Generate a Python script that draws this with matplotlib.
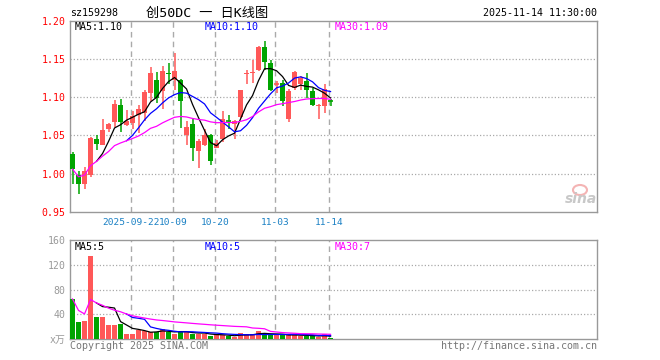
import numpy as np
import pandas as pd
import matplotlib
matplotlib.use("Agg")
import matplotlib.pyplot as plt
from matplotlib.patches import Ellipse

plt.rcParams['font.family'] = ['DejaVu Sans Mono', 'Noto Sans CJK SC']

# 日K数据
opens = [1.026, 0.999, 0.986, 0.999, 1.045, 1.038, 1.059, 1.068, 1.090, 1.064,
         1.066, 1.077, 1.079, 1.106, 1.122, 1.108, 1.132, 1.123, 1.122, 1.050,
         1.065, 1.030, 1.038, 1.051, 1.034, 1.045, 1.069, 1.065, 1.074, 1.130,
         1.131, 1.135, 1.166, 1.145, 1.117, 1.118, 1.071, 1.112, 1.117, 1.121,
         1.108, 1.088, 1.088, 1.095]
closes = [1.006, 0.986, 1.003, 1.047, 1.039, 1.057, 1.065, 1.091, 1.068, 1.069,
          1.076, 1.085, 1.107, 1.132, 1.099, 1.134, 1.130, 1.134, 1.095, 1.061,
          1.033, 1.043, 1.051, 1.016, 1.040, 1.072, 1.068, 1.069, 1.109, 1.132,
          1.133, 1.166, 1.146, 1.110, 1.118, 1.095, 1.108, 1.133, 1.125, 1.110,
          1.090, 1.090, 1.111, 1.094]
highs = [1.029, 1.003, 1.009, 1.048, 1.050, 1.072, 1.066, 1.096, 1.098, 1.083,
         1.082, 1.090, 1.110, 1.139, 1.133, 1.141, 1.145, 1.158, 1.124, 1.069,
         1.073, 1.046, 1.058, 1.052, 1.044, 1.082, 1.077, 1.070, 1.110, 1.135,
         1.149, 1.167, 1.173, 1.149, 1.121, 1.122, 1.111, 1.134, 1.128, 1.132,
         1.112, 1.091, 1.117, 1.098]
lows = [0.987, 0.974, 0.980, 0.996, 1.031, 1.037, 1.054, 1.061, 1.054, 1.063,
        1.059, 1.053, 1.069, 1.095, 1.092, 1.084, 1.117, 1.110, 1.060, 1.037,
        1.016, 1.008, 1.036, 1.012, 1.033, 1.041, 1.059, 1.045, 1.073, 1.117,
        1.119, 1.134, 1.136, 1.108, 1.106, 1.088, 1.068, 1.110, 1.109, 1.099,
        1.088, 1.071, 1.080, 1.088]
volumes = [65, 28, 29.6, 134, 36, 36, 23, 23, 24.7, 8.6,
           8.6, 15, 13.4, 11.3, 11.3, 16.7, 11.8, 8.6, 13.4, 11.3,
           8.6, 8.6, 8.6, 5.4, 7, 7, 5.4, 3.8, 10.2, 8.6,
           8.6, 13.4, 7, 7, 7, 7, 7, 7, 5.4, 5.4,
           5.4, 3.8, 8.6, 2]

tick_idx = [10, 17, 24, 34, 43]
tick_labels = ['2025-09-22', '10-09', '10-20', '11-03', '11-14']

RED = '#ff5858'
GREEN = '#00a400'
GRID = '#aaaaaa'
FRAME = '#999999'

W, H = 660, 360
fig = plt.figure(figsize=(6.6, 3.6), dpi=100)


def fx(px):
    return px / W


def fy(py):
    return 1 - py / H


ax = fig.add_axes([fx(70), fy(212), fx(597) - fx(70), fy(20.7) - fy(212)])
axv = fig.add_axes([fx(70), fy(339.3), fx(597) - fx(70), fy(240) - fy(339.3)])

n = len(closes)
x = np.arange(n)
df = pd.DataFrame({'o': opens, 'c': closes, 'h': highs, 'l': lows, 'v': volumes})
up = df['c'] >= df['o']
colors = [RED if u else GREEN for u in up]
bw = 0.83

# K线
for i in range(n):
    col = colors[i]
    ax.vlines(i, df['l'][i], df['h'][i], color=col, lw=1.1, zorder=3)
    lo = min(df['o'][i], df['c'][i])
    hi = max(df['o'][i], df['c'][i])
    if hi - lo < 0.0015:
        ax.hlines((lo + hi) / 2, i - bw / 2, i + bw / 2, color=col, lw=1.2, zorder=3)
    else:
        ax.bar(i, hi - lo, bottom=lo, width=bw, color=col, lw=0, zorder=3)

ma5 = df['c'].rolling(5).mean()
ma10 = df['c'].rolling(10).mean()
ma30 = df['c'].rolling(30, min_periods=1).mean()
ax.plot(x, ma5, color='black', lw=0.9, zorder=4)
ax.plot(x, ma10, color='#0000ff', lw=0.9, zorder=4)
ax.plot(x, ma30, color='#ff00ff', lw=0.9, zorder=4)

# 成交量
axv.bar(x, df['v'], width=bw, color=colors, lw=0, zorder=3)
axv.plot(x, df['v'].rolling(5).mean(), color='black', lw=0.9, zorder=4)
axv.plot(x, df['v'].rolling(10).mean(), color='#0000ff', lw=0.9, zorder=4)
axv.plot(x, df['v'].rolling(30, min_periods=1).mean(), color='#ff00ff', lw=0.9, zorder=4)

for a in (ax, axv):
    a.set_xlim(-0.42, 87.4)
    for s in a.spines.values():
        s.set_color(FRAME)
        s.set_linewidth(1)
    for t in tick_idx:
        a.axvline(t - 0.25, color=GRID, lw=1, ls=(0, (4, 3)), zorder=1)
    a.tick_params(length=0, labelsize=7.1)

ax.set_ylim(0.95, 1.20)
ax.set_yticks([0.95, 1.00, 1.05, 1.10, 1.15, 1.20])
ax.set_yticklabels(['0.95', '1.00', '1.05', '1.10', '1.15', '1.20'], color='#ff0000')
for v in [1.00, 1.05, 1.10, 1.15]:
    ax.axhline(v, color=GRID, lw=0.9, ls=(0, (1, 1.6)), zorder=1)
ax.set_xticks([t - 0.25 for t in tick_idx])
ax.set_xticklabels(tick_labels, color='#1a80c4', fontsize=6.8)
ax.tick_params(axis='y', pad=3)
ax.tick_params(axis='x', pad=4)

axv.set_ylim(0, 160)
axv.set_yticks([0, 40, 80, 120, 160])
axv.set_yticklabels(['x万', '40', '80', '120', '160'], color='#999999')
axv.set_xticks([])
axv.tick_params(axis='y', pad=3)
for v in [40, 80, 120]:
    axv.axhline(v, color=GRID, lw=0.9, ls=(0, (1, 1.6)), zorder=1)

# 文字
fs = 7.2
fig.text(fx(70), fy(13), 'sz159298', fontsize=fs, va='center', ha='left')
fig.text(fx(207), fy(13), '创50DC 一 日K线图', fontsize=9.5, va='center', ha='center')
fig.text(fx(597), fy(13), '2025-11-14 11:30:00', fontsize=fs, va='center', ha='right')

fig.text(fx(75), fy(26.5), 'MA5:1.10', fontsize=fs, va='center', color='black')
fig.text(fx(205), fy(26.5), 'MA10:1.10', fontsize=fs, va='center', color='#0000ff')
fig.text(fx(335), fy(26.5), 'MA30:1.09', fontsize=fs, va='center', color='#ff00ff')

fig.text(fx(75), fy(246.5), 'MA5:5', fontsize=fs, va='center', color='black')
fig.text(fx(205), fy(246.5), 'MA10:5', fontsize=fs, va='center', color='#0000ff')
fig.text(fx(335), fy(246.5), 'MA30:7', fontsize=fs, va='center', color='#ff00ff')

fig.text(fx(70), fy(346), 'Copyright 2025 SINA.COM', fontsize=fs, va='center', color='#777777')
fig.text(fx(597), fy(346), 'http://finance.sina.com.cn', fontsize=fs, va='center', ha='right',
         color='#777777')

# sina 水印
fig.patches.append(Ellipse((fx(580), fy(190)), fx(14), 10 / H, transform=fig.transFigure,
                           fill=False, ec='#f4b4b4', lw=1.5))
fig.text(fx(581), fy(199), 'sina', fontsize=10, fontweight='bold', style='italic',
         family='DejaVu Sans', color='#c8c8c8', ha='center', va='center')

fig.savefig('out.png', dpi=100)
